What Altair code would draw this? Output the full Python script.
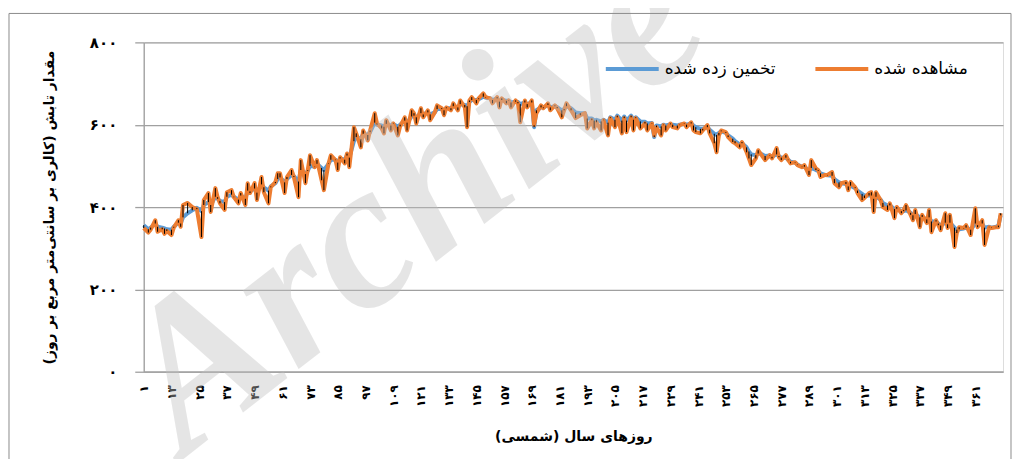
import altair as alt
import pandas as pd

# ---- data ----
days = [1, 3, 4, 6, 7, 9, 10, 11, 13, 14, 16, 17, 18, 20, 22, 24, 26, 27, 29, 30,
        32, 33, 34, 36, 37, 39, 40, 42, 43, 45, 46, 47, 49, 50, 52, 53, 55, 56, 58, 59,
        60, 62, 63, 65, 66, 68, 69, 71, 72, 73, 75, 76, 78, 79, 81, 82, 84, 85, 86, 88,
        89, 90, 92, 93, 95, 96, 98, 99, 101, 102, 104, 105, 106, 108, 109, 111, 112, 114, 115, 117,
        118, 119, 121, 122, 124, 125, 127, 128, 130, 131, 132, 134, 135, 137, 138, 140, 141, 142, 143, 145,
        146, 148, 149, 151, 152, 154, 155, 156, 158, 159, 160, 162, 163, 164, 166, 167, 169, 170, 171, 173,
        174, 176, 177, 179, 180, 182, 183, 184, 186, 188, 190, 192, 193, 195, 196, 197, 199, 200, 202, 203,
        205, 206, 208, 209, 210, 212, 213, 214, 216, 218, 219, 221, 222, 223, 225, 226, 227, 229, 230, 232,
        233, 235, 236, 238, 239, 240, 242, 243, 245, 246, 248, 249, 250, 251, 253, 254, 256, 257, 259, 260,
        262, 263, 264, 266, 267, 268, 270, 272, 273, 275, 276, 277, 279, 280, 281, 283, 284, 286, 287, 289,
        290, 292, 293, 294, 296, 297, 299, 300, 302, 303, 305, 306, 307, 309, 310, 312, 313, 315, 316, 317,
        318, 320, 321, 323, 324, 326, 327, 329, 330, 331, 333, 334, 335, 337, 338, 340, 341, 342, 344, 345,
        346, 348, 349, 350, 352, 353, 354, 356, 357, 359, 361, 362, 364, 365, 367, 368, 370, 371, 372]

observed = [349, 338, 345, 368, 340, 346, 335, 342, 332, 350, 368, 352, 405, 410, 400, 395, 327, 417, 434, 388,
            446, 424, 409, 393, 436, 441, 424, 409, 434, 405, 458, 434, 458, 417, 473, 436, 409, 448, 461, 482,
            482, 434, 473, 490, 473, 424, 514, 458, 490, 526, 497, 514, 465, 441, 506, 526, 514, 490, 521, 506,
            530, 497, 594, 579, 545, 586, 562, 586, 628, 603, 591, 579, 611, 586, 603, 574, 596, 618, 586, 635,
            628, 603, 640, 618, 635, 611, 630, 647, 640, 623, 642, 635, 652, 635, 659, 642, 594, 659, 667, 652,
            664, 676, 667, 664, 652, 667, 642, 664, 652, 659, 642, 659, 652, 606, 659, 642, 659, 599, 628, 647,
            640, 652, 635, 647, 640, 618, 635, 652, 635, 616, 623, 628, 591, 611, 591, 606, 586, 611, 574, 616,
            594, 618, 579, 616, 582, 618, 586, 616, 591, 603, 586, 603, 574, 594, 574, 599, 586, 603, 594, 591,
            599, 603, 594, 606, 586, 582, 579, 586, 599, 579, 555, 533, 574, 586, 582, 570, 558, 555, 545, 558,
            533, 518, 502, 518, 538, 530, 514, 526, 518, 543, 521, 514, 526, 514, 506, 509, 502, 497, 502, 478,
            514, 494, 490, 473, 478, 478, 485, 458, 448, 458, 461, 441, 461, 448, 434, 417, 422, 434, 436, 388,
            436, 417, 400, 393, 409, 373, 400, 385, 393, 405, 381, 368, 393, 351, 381, 361, 393, 339, 368, 356,
            344, 385, 349, 381, 303, 337, 351, 349, 356, 332, 397, 351, 368, 308, 351, 349, 351, 351, 385]

estimated = [356, 346, 350, 360, 352, 350, 348, 346, 345, 352, 362, 360, 375, 385, 392, 398, 390, 405, 412, 405,
             425, 420, 415, 412, 425, 430, 425, 418, 428, 420, 440, 438, 445, 435, 455, 448, 440, 450, 458, 468,
             472, 460, 468, 478, 475, 462, 490, 480, 488, 500, 498, 505, 495, 490, 505, 515, 515, 508, 518, 515,
             525, 520, 560, 570, 565, 578, 575, 582, 605, 600, 598, 595, 602, 598, 602, 595, 600, 610, 605, 620,
             622, 618, 628, 625, 630, 625, 630, 638, 638, 635, 640, 640, 645, 642, 650, 648, 645, 655, 660, 660,
             662, 668, 666, 664, 660, 664, 656, 660, 658, 658, 654, 656, 655, 650, 654, 650, 654, 594, 635, 642,
             642, 648, 642, 645, 643, 635, 638, 645, 640, 630, 628, 628, 615, 615, 610, 612, 608, 612, 605, 618,
             612, 622, 610, 620, 610, 622, 612, 618, 608, 607, 603, 604, 570, 598, 596, 600, 598, 601, 600, 598,
             600, 602, 600, 603, 598, 594, 590, 590, 594, 588, 578, 575, 580, 584, 580, 574, 566, 560, 552, 555,
             545, 535, 528, 526, 530, 530, 524, 525, 522, 528, 524, 520, 520, 515, 510, 508, 503, 498, 498, 488,
             495, 490, 488, 482, 478, 477, 476, 468, 460, 458, 456, 450, 452, 446, 440, 432, 428, 428, 428, 420,
             425, 418, 410, 404, 404, 395, 396, 390, 390, 392, 386, 380, 383, 375, 376, 370, 375, 365, 365, 360,
             355, 362, 358, 362, 350, 345, 346, 348, 350, 345, 360, 356, 360, 350, 352, 350, 352, 355, 380]

series_names = ["تخمین زده شده", "مشاهده شده"]
series_colors = ["#5B9BD5", "#ED7D31"]
y_ticks = [0, 200, 400, 600, 800]
x_ticks = list(range(1, 362, 12))
y_title = "مقدار تابش (کالری بر سانتی‌متر مربع بر روز)"
x_title = "روزهای سال (شمسی)"
watermark = ["Archive"]

# ---- tables built from the lists ----
long_rows = []
for d, e in zip(days, estimated):
    long_rows.append({"day": d, "value": e, "series": series_names[0]})
for d, o in zip(days, observed):
    long_rows.append({"day": d, "value": o, "series": series_names[1]})
df = pd.DataFrame(long_rows)
hl = pd.DataFrame({"day": days,
                   "lo": [min(a, b) for a, b in zip(observed, estimated)],
                   "hi": [max(a, b) for a, b in zip(observed, estimated)]})

persian = "۰۱۲۳۴۵۶۷۸۹"
fa_expr = "datum.label"
for i, ch in enumerate(persian):
    fa_expr = f"replace({fa_expr}, regexp('{i}', 'g'), '{ch}')"

GRID = "#A0A0A0"
FONT = "DejaVu Sans"

x_scale = alt.Scale(domain=[1, 373], nice=False, zero=False)
y_scale = alt.Scale(domain=[0, 800], nice=False)

x_axis = alt.Axis(values=x_ticks, labelExpr=fa_expr, labelAngle=270, labelFont=FONT,
                  labelFontWeight="bold", labelFontSize=12, labelColor="black",
                  ticks=False, labelPadding=13, grid=False, domainColor=GRID, domainWidth=1.3,
                  title=x_title, titleFont=FONT, titleFontSize=14, titleFontWeight="bold",
                  titleColor="black", titleX=430.5, titleY=65, titleBaseline="middle",
                  titleAlign="center", labelOverlap=False, labelBound=False)
y_axis = alt.Axis(values=y_ticks, labelExpr=fa_expr, labelFont=FONT, labelFontWeight="bold",
                  labelFontSize=15, labelColor="black", labelPadding=18, tickSize=9,
                  tickColor=GRID, tickWidth=1.3, domainColor=GRID, domainWidth=1.3,
                  grid=True, gridColor=GRID, gridWidth=1.3,
                  title=y_title, titleFont=FONT, titleFontSize=14, titleFontWeight="bold",
                  titleColor="black", titleAngle=270, titleX=-94, titleY=165,
                  titleBaseline="middle", titleAlign="center")

color = alt.Color("series:N",
                  scale=alt.Scale(domain=series_names, range=series_colors),
                  legend=alt.Legend(orient="none", legendX=461, legendY=-2, direction="horizontal",
                                    title=None, labelFont=FONT, labelFontSize=17, labelColor="black",
                                    symbolType="stroke", symbolSize=2809, symbolStrokeWidth=4,
                                    columnPadding=31, labelOffset=4, padding=0))

base = alt.Chart(df).mark_line(strokeWidth=4, strokeJoin="round").encode(
    x=alt.X("day:Q", scale=x_scale, axis=x_axis),
    y=alt.Y("value:Q", scale=y_scale, axis=y_axis),
    color=color,
)
est_line = base.transform_filter(alt.datum.series == series_names[0])
obs_line = base.transform_filter(alt.datum.series == series_names[1])

hilo = alt.Chart(hl).mark_rule(color="black", strokeWidth=1).encode(
    x=alt.X("day:Q", scale=x_scale, axis=x_axis),
    y=alt.Y("lo:Q", scale=y_scale, axis=y_axis),
    y2="hi:Q",
)

wm = alt.Chart(pd.DataFrame({"t": watermark})).mark_text(
    font="Liberation Serif", fontStyle="italic", fontWeight="bold", fontSize=210,
    angle=322, color="#C0C0C0", opacity=0.4, align="center", baseline="alphabetic"
).encode(x=alt.value(308), y=alt.value(208), text="t:N")

frame = alt.Chart(pd.DataFrame({"f": [0]})).mark_rect(
    filled=False, stroke="#8C8C8C", strokeWidth=1
).encode(x=alt.value(-135), x2=alt.value(869), y=alt.value(-29), y2=alt.value(440))

chart = alt.layer(est_line, obs_line, hilo, wm, frame).properties(
    width=861, height=330,
    autosize=alt.AutoSizeParams(type="none"),
    padding={"left": 136, "top": 34, "right": 10, "bottom": 87},
).configure_view(stroke=None, strokeWidth=0).configure(background="white")

chart.save("out.html", embed_options={"renderer": "svg", "actions": False})
